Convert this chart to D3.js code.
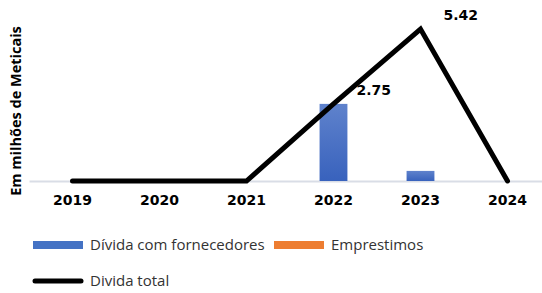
<!DOCTYPE html>
<html>
<head>
<meta charset="utf-8">
<script src="https://cdn.jsdelivr.net/npm/d3@7"></script>
<style>
  body { margin: 0; background: #fff; }
  text { font-family: "Open Sans", "DejaVu Sans", sans-serif; }
</style>
</head>
<body>
<script>
var years = ["2019", "2020", "2021", "2022", "2023", "2024"];
var fornecedores = [0, 0, 0, 2.75, 0.36, 0];
var emprestimos = [0, 0, 0, 0, 0, 0];
var total = [0, 0, 0, 2.75, 5.42, 0];
var labelled = ["2022", "2023"];

var width = 542, height = 293;

var x = d3.scaleBand().domain(years).range([29, 551]).paddingInner(0.68).paddingOuter(0.34);
var y = d3.scaleLinear().domain([0, 5.42]).range([181, 29]);

var svg = d3.select("body").append("svg")
    .attr("width", width)
    .attr("height", height);

var grad = svg.append("defs").append("linearGradient")
    .attr("id", "blueGrad").attr("x1", 0).attr("y1", 0).attr("x2", 0).attr("y2", 1);
grad.append("stop").attr("offset", "0%").attr("stop-color", "#5f82cc");
grad.append("stop").attr("offset", "100%").attr("stop-color", "#3862bd");

// axis
var xAxis = svg.append("g")
    .attr("transform", "translate(0," + y(0) + ")")
    .call(d3.axisBottom(x).tickSize(0).tickPadding(14));
xAxis.select(".domain").attr("stroke", "#d9dde6").attr("stroke-width", 2);
xAxis.selectAll("text")
    .attr("font-size", "14px")
    .attr("font-weight", "bold")
    .attr("fill", "#000")
    .style("font-family", "'DejaVu Sans', sans-serif");

// bars
svg.selectAll(".bar")
    .data(years)
  .enter().append("rect")
    .attr("class", "bar")
    .attr("x", function(d) { return x(d); })
    .attr("width", x.bandwidth())
    .attr("y", function(d, i) { return y(fornecedores[i]); })
    .attr("height", function(d, i) { return y(0) - y(fornecedores[i]); })
    .attr("fill", "url(#blueGrad)");

svg.selectAll(".bar2")
    .data(years)
  .enter().append("rect")
    .attr("class", "bar2")
    .attr("x", function(d) { return x(d); })
    .attr("width", x.bandwidth())
    .attr("y", function(d, i) { return y(fornecedores[i] + emprestimos[i]); })
    .attr("height", function(d, i) { return y(0) - y(emprestimos[i]); })
    .attr("fill", "#ed7d31");

// line
var line = d3.line()
    .x(function(d, i) { return x(years[i]) + x.bandwidth() / 2; })
    .y(function(d) { return y(d); });

svg.append("path")
    .datum(total)
    .attr("d", line)
    .attr("fill", "none")
    .attr("stroke", "#000")
    .attr("stroke-width", 5)
    .attr("stroke-linecap", "round")
    .attr("stroke-linejoin", "miter");

// data labels
svg.selectAll(".lbl")
    .data(labelled)
  .enter().append("text")
    .attr("class", "lbl")
    .attr("x", function(d) { return x(d) + x.bandwidth() / 2 + 23; })
    .attr("y", function(d) { return y(total[years.indexOf(d)]) - 9; })
    .attr("font-size", "14px")
    .attr("font-weight", "bold")
    .style("font-family", "'DejaVu Sans', sans-serif")
    .text(function(d) { return total[years.indexOf(d)].toFixed(2); });

// y title
svg.append("text")
    .attr("transform", "rotate(-90)")
    .attr("x", -111)
    .attr("y", 21)
    .attr("text-anchor", "middle")
    .attr("font-size", "14.5px")
    .attr("font-weight", "bold")
    .text("Em milhões de Meticais");

// legend
var legend = [
  {name: "Dívida com fornecedores", x: 33, y: 245, type: "rect", color: "#4472c4"},
  {name: "Emprestimos", x: 274, y: 245, type: "rect", color: "#ed7d31"},
  {name: "Divida total", x: 33, y: 281, type: "line", color: "#000"}
];
var lg = svg.selectAll(".leg").data(legend).enter().append("g").attr("class", "leg");
lg.filter(function(d) { return d.type == "rect"; }).append("rect")
    .attr("x", function(d) { return d.x; })
    .attr("y", function(d) { return d.y - 4; })
    .attr("width", 50).attr("height", 8)
    .attr("fill", function(d) { return d.color; });
lg.filter(function(d) { return d.type == "line"; }).append("line")
    .attr("x1", function(d) { return d.x + 2; })
    .attr("x2", function(d) { return d.x + 48; })
    .attr("y1", function(d) { return d.y; })
    .attr("y2", function(d) { return d.y; })
    .attr("stroke", "#000").attr("stroke-width", 5).attr("stroke-linecap", "round");
lg.append("text")
    .attr("x", function(d) { return d.x + 57; })
    .attr("y", function(d) { return d.y + 5; })
    .attr("font-size", "15px")
    .attr("fill", "#333")
    .text(function(d) { return d.name; });
</script>
</body>
</html>
